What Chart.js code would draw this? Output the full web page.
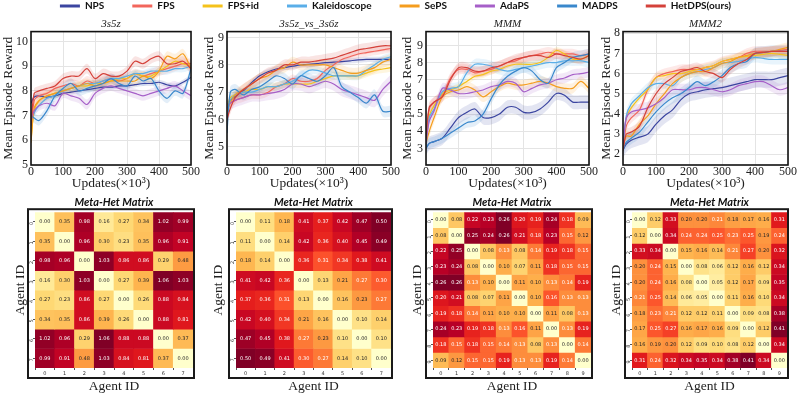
<!DOCTYPE html>
<html lang="en">
<head>
<meta charset="UTF-8" />
<title>HetDPS results</title>
<script src="https://cdn.jsdelivr.net/npm/chart.js"></script>
<style>
  body { margin: 0; background: #fff; width: 797px; height: 396px; overflow: hidden; position: relative; }
  .box { position: absolute; }
</style>
</head>
<body>
<div class="box" style="left:-3px;top:-27px;width:797px;height:120px"><canvas id="legend"></canvas></div>
<div class="box" style="left:0;top:18px;width:200px;height:177px"><canvas id="line0"></canvas></div>
<div class="box" style="left:200px;top:18px;width:200px;height:177px"><canvas id="line1"></canvas></div>
<div class="box" style="left:398px;top:18px;width:200px;height:177px"><canvas id="line2"></canvas></div>
<div class="box" style="left:598px;top:18px;width:199px;height:177px"><canvas id="line3"></canvas></div>
<div class="box" style="left:0;top:194px;width:200px;height:202px"><canvas id="heat0"></canvas></div>
<div class="box" style="left:200px;top:194px;width:200px;height:202px"><canvas id="heat1"></canvas></div>
<div class="box" style="left:398px;top:194px;width:200px;height:202px"><canvas id="heat2"></canvas></div>
<div class="box" style="left:598px;top:194px;width:199px;height:202px"><canvas id="heat3"></canvas></div>
<script>
// ---- data ----
const methods = ['NPS', 'FPS', 'FPS+id', 'Kaleidoscope', 'SePS', 'AdaPS', 'MADPS', 'HetDPS(ours)'];
const colors = ['#3b45a0', '#f2665c', '#f5c21b', '#5aaee8', '#f59d1e', '#a65fc8', '#3a88cc', '#d4413a'];
const steps = [0, 10, 25, 50, 75, 100, 125, 150, 175, 200, 225, 250, 275, 300, 325, 350, 375, 400, 425, 450, 475, 500];
const xTicks = [0, 100, 200, 300, 400, 500];
const mapNames = ['3s5z', '3s5z_vs_3s6z', 'MMM', 'MMM2'];

// 3s5z
const p1NPS    = [7.5, 7.75, 7.8, 7.75, 7.8, 7.9, 7.95, 8.0, 8.05, 8.1, 8.15, 8.15, 8.2, 8.2, 8.25, 8.3, 8.3, 8.35, 8.25, 8.2, 8.35, 8.55];
const p1FPS    = [6.3, 7.6, 7.8, 7.9, 8.1, 8.2, 8.3, 8.2, 8.4, 8.3, 8.4, 8.5, 8.4, 8.5, 8.7, 8.6, 8.7, 8.8, 8.9, 9.0, 9.1, 9.1];
const p1FPSid  = [6.0, 7.2, 7.6, 7.8, 7.9, 8.0, 8.1, 8.2, 8.2, 8.3, 8.3, 8.4, 8.5, 8.5, 8.7, 8.6, 8.6, 8.8, 9.0, 9.2, 9.1, 9.0];
const p1Kal    = [6.6, 7.1, 7.4, 7.7, 7.8, 8.0, 8.1, 8.2, 8.3, 8.3, 8.4, 8.5, 8.5, 8.6, 8.7, 8.7, 8.8, 8.8, 8.8, 8.9, 8.9, 9.0];
const p1SePS   = [5.9, 7.3, 7.6, 7.8, 7.9, 8.0, 8.1, 8.2, 8.3, 8.2, 8.3, 8.4, 8.4, 8.4, 8.4, 8.6, 8.5, 8.8, 9.4, 9.3, 9.5, 8.9];
const p1AdaPS  = [6.8, 7.2, 7.4, 7.5, 7.4, 7.9, 7.8, 7.7, 7.45, 7.9, 8.1, 8.2, 8.1, 8.0, 7.9, 7.8, 7.9, 8.0, 8.1, 8.2, 8.0, 7.8];
const p1MADPS  = [7.0, 6.9, 6.8, 7.2, 7.8, 8.1, 8.3, 8.0, 8.1, 8.2, 8.3, 8.5, 8.3, 8.2, 8.6, 8.4, 8.5, 8.0, 7.7, 8.0, 7.9, 8.9];
const p1HetDPS = [6.6, 7.9, 8.0, 8.1, 8.2, 8.5, 8.6, 8.6, 8.9, 8.5, 8.7, 8.6, 8.6, 8.8, 9.2, 9.1, 9.3, 9.4, 9.1, 9.1, 9.2, 8.9];
const p1Spread = [0.1, 0.2, 0.15, 0.15, 0.2, 0.2, 0.2, 0.2];

// 3s5z_vs_3s6z
const p2NPS    = [6.5, 6.7, 6.85, 7.05, 7.35, 7.6, 7.75, 7.85, 7.9, 7.95, 8.0, 8.02, 8.05, 8.08, 8.1, 8.12, 8.15, 8.18, 8.2, 8.2, 8.2, 8.2];
const p2FPS    = [6.5, 6.6, 6.7, 6.8, 6.9, 6.9, 7.0, 7.2, 7.3, 7.5, 7.4, 7.4, 7.5, 7.8, 8.0, 8.2, 8.3, 8.4, 8.45, 8.5, 8.55, 8.6];
const p2FPSid  = [6.4, 6.8, 6.9, 7.0, 7.1, 7.1, 7.2, 7.2, 7.3, 7.3, 7.3, 7.3, 7.4, 7.5, 7.6, 7.6, 7.6, 7.6, 7.7, 7.8, 7.85, 7.9];
const p2Kal    = [6.0, 6.7, 6.9, 7.0, 7.0, 7.1, 7.2, 7.2, 7.3, 7.4, 7.6, 7.8, 7.8, 7.7, 7.6, 7.6, 7.6, 7.6, 7.8, 8.0, 8.2, 8.3];
const p2SePS   = [6.3, 6.6, 6.9, 7.1, 7.3, 7.5, 7.6, 7.8, 7.9, 8.1, 8.0, 8.0, 8.0, 8.0, 7.9, 7.8, 7.7, 7.7, 7.8, 7.9, 8.1, 8.2];
const p2AdaPS  = [6.4, 6.6, 6.7, 6.8, 6.9, 6.9, 6.95, 7.0, 7.1, 7.3, 7.3, 7.2, 7.3, 7.4, 7.3, 7.1, 7.0, 6.9, 6.8, 6.7, 7.1, 7.4];
const p2MADPS  = [5.5, 7.0, 7.1, 6.9, 7.1, 7.2, 7.4, 7.6, 7.5, 7.3, 7.6, 7.5, 7.4, 7.6, 7.9, 7.2, 7.0, 6.8, 6.6, 6.9, 6.3, 6.3];
const p2HetDPS = [6.0, 6.4, 6.8, 7.1, 7.3, 7.5, 7.7, 7.8, 8.0, 8.0, 8.1, 8.1, 8.15, 8.2, 8.25, 8.35, 8.45, 8.55, 8.6, 8.65, 8.7, 8.7];
const p2Spread = [0.1, 0.15, 0.15, 0.15, 0.2, 0.25, 0.2, 0.2];

// MMM
const p3NPS    = [3.0, 3.3, 3.4, 3.6, 4.2, 4.8, 5.1, 5.3, 4.8, 4.8, 5.0, 5.4, 5.4, 5.1, 5.1, 5.3, 5.7, 6.2, 6.1, 5.7, 5.7, 5.7];
const p3FPS    = [3.5, 5.3, 5.7, 6.1, 7.1, 7.6, 7.6, 7.4, 7.5, 7.6, 7.8, 8.0, 8.1, 8.3, 8.4, 8.5, 8.6, 8.5, 8.5, 8.5, 8.4, 8.5];
const p3FPSid  = [3.3, 4.9, 5.5, 6.2, 6.4, 6.6, 6.9, 7.2, 7.3, 7.5, 7.6, 7.8, 7.9, 7.9, 7.9, 8.0, 8.3, 8.7, 8.5, 8.2, 8.2, 8.4];
const p3Kal    = [3.0, 4.8, 5.3, 6.3, 6.5, 6.6, 7.4, 7.9, 7.9, 7.8, 7.6, 7.5, 7.6, 7.7, 7.8, 7.9, 8.0, 8.0, 8.1, 8.1, 8.1, 8.0];
const p3SePS   = [3.3, 4.0, 4.8, 6.0, 6.3, 6.4, 6.6, 6.4, 6.0, 6.3, 6.6, 6.8, 6.7, 6.7, 6.8, 6.9, 6.8, 6.6, 6.5, 6.5, 6.9, 6.5];
const p3AdaPS  = [3.3, 4.6, 5.2, 6.5, 6.4, 6.2, 6.2, 6.3, 6.4, 6.6, 6.7, 6.9, 6.8, 6.3, 6.5, 6.7, 6.8, 7.0, 7.1, 7.3, 7.35, 7.45];
const p3MADPS  = [3.0, 3.3, 3.4, 3.6, 3.9, 4.2, 4.5, 4.6, 5.0, 5.9, 6.7, 7.2, 7.5, 7.7, 7.5, 7.0, 6.8, 7.7, 8.0, 8.3, 8.4, 8.5];
const p3HetDPS = [3.6, 5.4, 5.7, 6.0, 7.0, 7.7, 7.7, 7.5, 7.5, 7.7, 7.8, 8.0, 8.2, 8.3, 8.4, 8.4, 8.3, 8.5, 8.4, 8.3, 8.2, 8.4];
const p3Spread = [0.4, 0.3, 0.2, 0.3, 0.3, 0.3, 0.3, 0.3];

// MMM2
const p4NPS    = [2.2, 2.5, 2.7, 2.85, 3.0, 3.5, 3.9, 4.2, 4.7, 5.0, 5.1, 5.2, 5.25, 5.3, 5.4, 5.5, 5.6, 5.7, 5.7, 5.7, 5.8, 5.9];
const p4FPS    = [2.2, 3.4, 3.8, 4.2, 5.2, 5.8, 6.0, 6.1, 6.2, 6.2, 6.2, 6.3, 6.4, 6.6, 6.7, 6.8, 7.0, 7.1, 7.1, 7.1, 7.15, 7.2];
const p4FPSid  = [2.3, 3.8, 4.3, 4.8, 5.2, 5.8, 5.9, 6.0, 6.0, 6.1, 6.2, 6.3, 6.4, 6.6, 6.7, 6.8, 6.85, 6.9, 6.95, 7.0, 6.95, 6.9];
const p4Kal    = [2.3, 3.9, 4.5, 4.9, 5.3, 5.5, 5.5, 5.4, 5.8, 6.0, 6.1, 6.2, 6.3, 6.5, 6.55, 6.6, 6.7, 6.8, 6.75, 6.7, 6.7, 6.7];
const p4SePS   = [2.4, 2.9, 2.9, 3.5, 3.9, 4.5, 5.0, 5.5, 5.8, 6.0, 6.1, 6.1, 6.3, 6.5, 6.6, 6.8, 6.9, 7.0, 7.05, 7.1, 7.2, 7.3];
const p4AdaPS  = [2.5, 3.8, 4.1, 4.2, 4.3, 4.5, 4.8, 5.2, 5.2, 5.2, 5.3, 5.3, 5.2, 5.1, 5.2, 5.4, 5.5, 5.6, 5.6, 5.4, 5.2, 5.3];
const p4MADPS  = [2.2, 2.6, 2.8, 3.1, 3.6, 4.1, 4.5, 4.8, 5.0, 5.3, 5.6, 5.4, 5.6, 5.9, 6.3, 6.5, 6.6, 7.0, 7.05, 7.1, 7.1, 7.1];
const p4HetDPS = [2.2, 3.0, 3.1, 3.4, 4.3, 5.0, 5.5, 5.8, 6.1, 6.2, 6.3, 6.1, 6.0, 5.8, 6.2, 6.5, 6.7, 7.0, 7.05, 7.1, 7.1, 7.1];
const p4Spread = [0.4, 0.25, 0.2, 0.25, 0.25, 0.3, 0.3, 0.25];

const yRanges = [[5, 10.4], [4.33, 9.22], [2.04, 9.8], [1.47, 8.08]];
const yTicks1 = [5, 6, 7, 8, 9, 10];
const yTicks2 = [5, 6, 7, 8, 9];
const yTicks3 = [3, 4, 5, 6, 7, 8, 9];
const yTicks4 = [2, 3, 4, 5, 6, 7, 8];

// Meta-Het matrices
const hm1 = [
  [0.00, 0.35, 0.98, 0.16, 0.27, 0.34, 1.02, 0.99],
  [0.35, 0.00, 0.96, 0.30, 0.23, 0.35, 0.96, 0.91],
  [0.98, 0.96, 0.00, 1.03, 0.86, 0.86, 0.29, 0.48],
  [0.16, 0.30, 1.03, 0.00, 0.27, 0.39, 1.06, 1.03],
  [0.27, 0.23, 0.86, 0.27, 0.00, 0.26, 0.88, 0.84],
  [0.34, 0.35, 0.86, 0.39, 0.26, 0.00, 0.88, 0.81],
  [1.02, 0.96, 0.29, 1.06, 0.88, 0.88, 0.00, 0.37],
  [0.99, 0.91, 0.48, 1.03, 0.84, 0.81, 0.37, 0.00]
];
const hm2 = [
  [0.00, 0.11, 0.18, 0.41, 0.37, 0.42, 0.47, 0.50],
  [0.11, 0.00, 0.14, 0.42, 0.36, 0.40, 0.45, 0.49],
  [0.18, 0.14, 0.00, 0.36, 0.31, 0.34, 0.38, 0.41],
  [0.41, 0.42, 0.36, 0.00, 0.13, 0.21, 0.27, 0.30],
  [0.37, 0.36, 0.31, 0.13, 0.00, 0.16, 0.23, 0.27],
  [0.42, 0.40, 0.34, 0.21, 0.16, 0.00, 0.10, 0.14],
  [0.47, 0.45, 0.38, 0.27, 0.23, 0.10, 0.00, 0.10],
  [0.50, 0.49, 0.41, 0.30, 0.27, 0.14, 0.10, 0.00]
];
const hm3 = [
  [0.00, 0.08, 0.22, 0.23, 0.26, 0.20, 0.19, 0.24, 0.18, 0.09],
  [0.08, 0.00, 0.25, 0.24, 0.26, 0.21, 0.18, 0.23, 0.15, 0.12],
  [0.22, 0.25, 0.00, 0.08, 0.13, 0.08, 0.14, 0.19, 0.18, 0.15],
  [0.23, 0.24, 0.08, 0.00, 0.10, 0.07, 0.11, 0.18, 0.15, 0.15],
  [0.26, 0.26, 0.13, 0.10, 0.00, 0.11, 0.10, 0.13, 0.14, 0.19],
  [0.20, 0.21, 0.08, 0.07, 0.11, 0.00, 0.10, 0.16, 0.13, 0.13],
  [0.19, 0.18, 0.14, 0.11, 0.10, 0.10, 0.00, 0.11, 0.08, 0.13],
  [0.24, 0.23, 0.19, 0.18, 0.13, 0.16, 0.11, 0.00, 0.13, 0.19],
  [0.18, 0.15, 0.18, 0.15, 0.14, 0.13, 0.08, 0.13, 0.00, 0.14],
  [0.09, 0.12, 0.15, 0.15, 0.19, 0.13, 0.13, 0.19, 0.14, 0.00]
];
const hm4 = [
  [0.00, 0.12, 0.33, 0.20, 0.20, 0.21, 0.18, 0.17, 0.16, 0.31],
  [0.12, 0.00, 0.34, 0.24, 0.24, 0.25, 0.23, 0.25, 0.19, 0.24],
  [0.33, 0.34, 0.00, 0.15, 0.16, 0.14, 0.21, 0.27, 0.20, 0.32],
  [0.20, 0.24, 0.15, 0.00, 0.08, 0.06, 0.12, 0.16, 0.12, 0.34],
  [0.20, 0.24, 0.16, 0.08, 0.00, 0.05, 0.12, 0.17, 0.09, 0.35],
  [0.21, 0.25, 0.14, 0.06, 0.05, 0.00, 0.11, 0.16, 0.10, 0.34],
  [0.18, 0.23, 0.21, 0.12, 0.12, 0.11, 0.00, 0.09, 0.08, 0.38],
  [0.17, 0.25, 0.27, 0.16, 0.17, 0.16, 0.09, 0.00, 0.12, 0.41],
  [0.16, 0.19, 0.20, 0.12, 0.09, 0.10, 0.08, 0.12, 0.00, 0.34],
  [0.31, 0.24, 0.32, 0.34, 0.35, 0.34, 0.38, 0.41, 0.34, 0.00]
];

// matplotlib YlOrRd
const ylOrRd = ['#ffffcc', '#ffeda0', '#fed976', '#feb24c', '#fd8d3c', '#fc4e2a', '#e31a1c', '#bd0026', '#800026'];

// ---- helpers ----
function hexRgb(h) {
  return [parseInt(h.slice(1, 3), 16), parseInt(h.slice(3, 5), 16), parseInt(h.slice(5, 7), 16)];
}
function heatRgb(v, vmax) {
  const t = Math.max(0, Math.min(1, v / vmax)) * (ylOrRd.length - 1);
  const i = Math.min(Math.floor(t), ylOrRd.length - 2);
  const f = t - i;
  const a = hexRgb(ylOrRd[i]), b = hexRgb(ylOrRd[i + 1]);
  return a.map((c, k) => Math.round(c + (b[k] - c) * f));
}
function textFor(rgb) {
  const lin = rgb.map(c => { c /= 255; return c <= 0.03928 ? c / 12.92 : Math.pow((c + 0.055) / 1.055, 2.4); });
  const lum = 0.2126 * lin[0] + 0.7152 * lin[1] + 0.0722 * lin[2];
  return lum > 0.408 ? '#262626' : '#ffffff';
}
function alpha(hex, a) {
  const [r, g, b] = hexRgb(hex);
  return `rgba(${r},${g},${b},${a})`;
}

const serif = 'Liberation Serif';
const frame = {
  id: 'frame',
  afterDraw(chart) {
    const { ctx, chartArea: c } = chart;
    ctx.save();
    ctx.strokeStyle = '#111';
    ctx.lineWidth = 1.6;
    ctx.strokeRect(c.left, c.top, c.right - c.left, c.bottom - c.top);
    ctx.restore();
  }
};

// ---- legend ----
new Chart(document.getElementById('legend'), {
  type: 'line',
  data: {
    labels: [],
    datasets: methods.map((m, k) => ({ label: m, data: [], borderColor: colors[k], backgroundColor: colors[k], borderWidth: 0 }))
  },
  options: {
    responsive: true, maintainAspectRatio: false, animation: false,
    scales: { x: { display: false }, y: { display: false } },
    plugins: {
      tooltip: { enabled: false },
      legend: {
        display: true, position: 'top',
        labels: { boxWidth: 20, boxHeight: 3, padding: 28, color: '#111', font: { family: 'Lato', weight: 'bold', size: 10 } }
      }
    }
  }
});

// ---- line charts ----
const panels = [
  [p1NPS, p1FPS, p1FPSid, p1Kal, p1SePS, p1AdaPS, p1MADPS, p1HetDPS],
  [p2NPS, p2FPS, p2FPSid, p2Kal, p2SePS, p2AdaPS, p2MADPS, p2HetDPS],
  [p3NPS, p3FPS, p3FPSid, p3Kal, p3SePS, p3AdaPS, p3MADPS, p3HetDPS],
  [p4NPS, p4FPS, p4FPSid, p4Kal, p4SePS, p4AdaPS, p4MADPS, p4HetDPS]
];
const spreads = [p1Spread, p2Spread, p3Spread, p4Spread];
const yTickSets = [yTicks1, yTicks2, yTicks3, yTicks4];
const lineLayout = [
  { yW: 31, pad: 0, right: 6 },
  { yW: 27, pad: 1.6, right: 6 },
  { yW: 28, pad: 1.6, right: 8 },
  { yW: 25, pad: 0.6, right: 7 }
];

panels.forEach((series, p) => {
  const datasets = [];
  for (let k = methods.length - 1; k >= 0; k--) {
    datasets.push({
      label: methods[k],
      data: steps.map((x, i) => ({ x, y: series[k][i] })),
      borderColor: colors[k], borderWidth: 1.2, pointRadius: 0, tension: 0.3, fill: false
    });
  }
  for (let k = methods.length - 1; k >= 0; k--) {
    const s = spreads[p][k];
    datasets.push({
      data: steps.map((x, i) => ({ x, y: series[k][i] + s })),
      borderWidth: 0, pointRadius: 0, tension: 0.3,
      backgroundColor: alpha(colors[k], 0.14), fill: '+1'
    });
    datasets.push({
      data: steps.map((x, i) => ({ x, y: series[k][i] - s })),
      borderWidth: 0, pointRadius: 0, tension: 0.3, fill: false
    });
  }
  const L = lineLayout[p];
  new Chart(document.getElementById('line' + p), {
    type: 'line',
    data: { datasets },
    plugins: [frame],
    options: {
      responsive: true, maintainAspectRatio: false, animation: false,
      layout: { padding: { left: 0, right: L.right, top: 0, bottom: 0 } },
      plugins: {
        legend: { display: false },
        tooltip: { enabled: false },
        title: {
          display: true, text: mapNames[p], fullSize: false, color: '#222',
          font: { family: serif, style: 'italic', weight: 'normal', size: 11 }, padding: { top: 0, bottom: 0.4 }
        }
      },
      scales: {
        x: {
          type: 'linear', min: 0, max: 500,
          afterBuildTicks: ax => { ax.ticks = xTicks.map(v => ({ value: v })); },
          afterFit: ax => { ax.height = 30; },
          ticks: { color: '#222', font: { family: serif, size: 12 }, padding: 0, maxRotation: 0 },
          grid: { color: '#e4e4e4', drawTicks: false },
          border: { display: false },
          title: { display: true, text: 'Updates(×10³)', color: '#222', font: { family: serif, size: 13.5 }, padding: { top: 0, bottom: 3 } }
        },
        y: {
          min: yRanges[p][0], max: yRanges[p][1],
          afterBuildTicks: ax => { ax.ticks = yTickSets[p].map(v => ({ value: v })); },
          afterFit: ax => { ax.width = L.yW; },
          ticks: { color: '#222', font: { family: serif, size: 12 }, padding: 3 },
          grid: { color: '#e4e4e4', drawTicks: false },
          border: { display: false },
          title: { display: true, text: 'Mean Episode Reward', color: '#222', font: { family: serif, size: 13.5 }, padding: { top: L.pad, bottom: 0 } }
        }
      }
    }
  });
});

// ---- heatmaps ----
const cellText = {
  id: 'cellText',
  afterDatasetsDraw(chart) {
    const ctx = chart.ctx;
    ctx.save();
    ctx.font = '5px "DejaVu Sans"';
    ctx.textAlign = 'center';
    ctx.textBaseline = 'middle';
    chart.data.datasets.forEach((ds, r) => {
      chart.getDatasetMeta(r).data.forEach((bar, c) => {
        ctx.fillStyle = ds.textColors[c];
        ctx.fillText(ds.values[c].toFixed(2), bar.x, (bar.y + bar.base) / 2);
      });
    });
    ctx.restore();
  }
};
const heatFrame = {
  id: 'heatFrame',
  afterDraw(chart) {
    const { ctx, chartArea: c } = chart;
    ctx.save();
    ctx.strokeStyle = '#1a1a1a';
    ctx.lineWidth = 2;
    ctx.strokeRect(c.left - 7, c.top - 3, c.right - c.left + 8, c.bottom - c.top + 13);
    ctx.restore();
  }
};

const matrices = [hm1, hm2, hm3, hm4];
const heatLayout = [
  { yW: 35, pad: 12, right: 7 },
  { yW: 36, pad: 10, right: 9 },
  { yW: 35, pad: 11, right: 7 },
  { yW: 34, pad: 10, right: 10 }
];

matrices.forEach((m, h) => {
  const n = m.length;
  const ids = m.map((_, i) => String(i));
  const vmax = Math.max(...m.flat());
  const datasets = m.map((row, r) => {
    const rgbs = row.map(v => heatRgb(v, vmax));
    return {
      data: row.map(() => [r, r + 1]),
      values: row,
      backgroundColor: rgbs.map(c => `rgb(${c[0]},${c[1]},${c[2]})`),
      textColors: rgbs.map(textFor),
      borderWidth: 0, barPercentage: 1, categoryPercentage: 1
    };
  });
  const L = heatLayout[h];
  const tickFont = { family: 'DejaVu Sans', size: 5 };
  new Chart(document.getElementById('heat' + h), {
    type: 'bar',
    data: { labels: ids, datasets },
    plugins: [cellText, heatFrame],
    options: {
      responsive: true, maintainAspectRatio: false, animation: false,
      layout: { padding: { left: 0, right: L.right, top: 0, bottom: 0 } },
      plugins: {
        legend: { display: false },
        tooltip: { enabled: false },
        title: {
          display: true, text: 'Meta-Het Matrix', fullSize: false, color: '#111',
          font: { family: 'Lato', style: 'italic', weight: 'bold', size: 11 }, padding: { top: 2, bottom: 3 }
        }
      },
      scales: {
        x: {
          stacked: true,
          afterFit: ax => { ax.height = 28; },
          ticks: { color: '#333', font: tickFont, padding: 1, maxRotation: 0 },
          grid: { drawOnChartArea: false, drawTicks: true, tickLength: 2, color: '#555' },
          border: { display: false },
          title: { display: true, text: 'Agent ID', color: '#222', font: { family: serif, size: 13.5 }, padding: { top: 0, bottom: 1 } }
        },
        y: {
          type: 'linear', stacked: false, reverse: true, min: 0, max: n,
          afterBuildTicks: ax => { ax.ticks = ids.map((_, i) => ({ value: i + 0.5 })); },
          afterFit: ax => { ax.width = L.yW; },
          ticks: { color: '#333', font: tickFont, padding: 1, minRotation: 90, maxRotation: 90, callback: (v, i) => ids[i] },
          grid: { drawOnChartArea: false, drawTicks: true, tickLength: 2, color: '#555' },
          border: { display: false },
          title: { display: true, text: 'Agent ID', color: '#222', font: { family: serif, size: 13.5 }, padding: { top: L.pad, bottom: 0 } }
        }
      }
    }
  });
});
</script>
</body>
</html>
